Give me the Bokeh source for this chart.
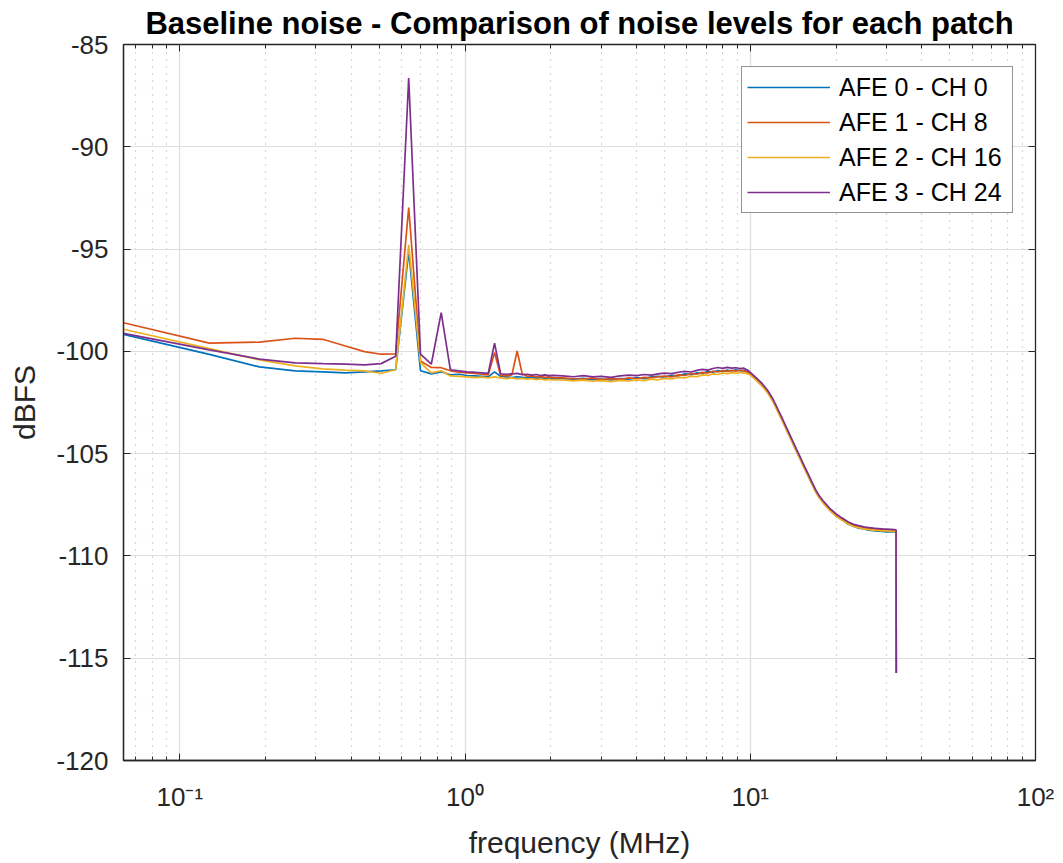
from bokeh.plotting import figure
from bokeh.models import FixedTicker, LogAxis, LinearAxis, Range1d, CustomJSTickFormatter
from bokeh.embed import file_html
from bokeh.resources import INLINE

# ---------------- data ----------------
# frequency bins (MHz): first 32 FFT bins, then sampled points up to Nyquist
freq = [0.0635, 0.1270, 0.1904, 0.2539, 0.3174, 0.3809, 0.4443, 0.5078, 0.5713, 0.6348,
        0.6982, 0.7617, 0.8252, 0.8887, 0.9521, 1.0156, 1.0791, 1.1426, 1.2061, 1.2695,
        1.3330, 1.3965, 1.4600, 1.5234, 1.5869, 1.6504, 1.7139, 1.7773, 1.8408, 1.9043,
        1.9678, 2.0313,
        2.2, 2.4, 2.6, 2.8, 3.0, 3.25, 3.5, 3.75, 4.0, 4.25, 4.5, 4.75, 5.0, 5.3, 5.6,
        5.9, 6.2, 6.5, 6.8, 7.1, 7.4, 7.7, 8.0, 8.3, 8.6, 8.9, 9.2, 9.5, 9.8, 10.0,
        10.5, 11.0, 11.5, 12.0, 12.5, 13.0, 13.5, 14.0, 14.5, 15.0, 15.5, 16.0, 16.5,
        17.0, 17.5, 18.0, 19.0, 20.0, 21.0, 22.0, 23.0, 24.0, 25.0, 26.0, 27.0, 28.0,
        29.0, 30.0, 31.0, 32.0, 32.44, 32.5]

afe0_ch0 = [-99.17, -100.15, -100.76, -100.95, -101.00, -101.05, -101.00, -100.95, -100.90, -95.10,
            -100.95, -101.10, -101.00, -101.15, -101.12, -101.18, -101.20, -101.22, -101.25, -101.00,
            -101.22, -101.25, -101.28, -101.24, -101.27, -101.30, -101.26, -101.32, -101.28, -101.33,
            -101.30, -101.34,
            -101.33, -101.36, -101.32, -101.38, -101.35, -101.40, -101.33, -101.36, -101.28, -101.33,
            -101.25, -101.22, -101.26, -101.17, -101.20, -101.10, -101.14, -101.05, -101.08, -100.98,
            -101.02, -100.94, -100.99, -100.92, -100.96, -100.90, -100.95, -100.93, -101.00, -101.08,
            -101.38, -101.66, -101.98, -102.40, -102.92, -103.40, -103.92, -104.38, -104.85, -105.28,
            -105.70, -106.12, -106.50, -106.88, -107.16, -107.38, -107.76, -108.05, -108.24, -108.44,
            -108.55, -108.64, -108.68, -108.74, -108.76, -108.79, -108.80, -108.82, -108.83, -108.82,
            -108.84, -115.72]

afe1_ch8 = [-98.60, -99.60, -99.55, -99.36, -99.41, -99.74, -100.01, -100.14, -100.13, -92.97,
            -100.47, -100.79, -100.80, -100.95, -101.02, -101.05, -101.08, -101.12, -101.15, -100.06,
            -101.18, -101.20, -101.15, -99.98, -101.10, -101.22, -101.20, -101.25, -101.22, -101.27,
            -101.25, -101.28,
            -101.30, -101.34, -101.36, -101.31, -101.38, -101.33, -101.37, -101.30, -101.34, -101.27,
            -101.30, -101.24, -101.21, -101.25, -101.15, -101.18, -101.08, -101.12, -101.03, -101.06,
            -100.97, -101.01, -100.94, -100.98, -100.93, -100.97, -100.92, -100.96, -101.02, -101.10,
            -101.35, -101.63, -101.96, -102.38, -102.90, -103.38, -103.89, -104.36, -104.82, -105.26,
            -105.67, -106.09, -106.47, -106.86, -107.12, -107.36, -107.71, -108.01, -108.19, -108.39,
            -108.49, -108.58, -108.61, -108.67, -108.67, -108.71, -108.70, -108.74, -108.72, -108.76,
            -108.75, -115.72]

afe2_ch16 = [-98.92, -99.87, -100.42, -100.71, -100.86, -100.92, -100.95, -101.07, -100.90, -94.79,
             -100.55, -101.05, -100.95, -101.20, -101.22, -101.25, -101.28, -101.26, -101.30, -101.25,
             -101.30, -101.33, -101.30, -101.35, -101.32, -101.36, -101.34, -101.38, -101.35, -101.39,
             -101.37, -101.40,
             -101.40, -101.44, -101.41, -101.46, -101.43, -101.48, -101.42, -101.45, -101.40, -101.43,
             -101.36, -101.39, -101.32, -101.35, -101.27, -101.30, -101.21, -101.24, -101.15, -101.18,
             -101.10, -101.13, -101.06, -101.09, -101.04, -101.07, -101.03, -101.06, -101.10, -101.16,
             -101.42, -101.70, -102.03, -102.45, -102.96, -103.45, -103.95, -104.42, -104.88, -105.32,
             -105.74, -106.14, -106.54, -106.91, -107.18, -107.41, -107.78, -108.06, -108.26, -108.43,
             -108.56, -108.62, -108.68, -108.71, -108.74, -108.75, -108.78, -108.77, -108.80, -108.79,
             -108.80, -115.72]

afe3_ch24 = [-99.12, -99.93, -100.38, -100.56, -100.60, -100.62, -100.66, -100.60, -100.24, -86.64,
             -100.14, -100.63, -98.11, -100.90, -100.95, -101.00, -101.02, -101.05, -101.08, -99.60,
             -101.10, -101.12, -101.10, -101.08, -101.14, -101.12, -101.16, -101.13, -101.18, -101.15,
             -101.19, -101.17,
             -101.20, -101.24, -101.19, -101.25, -101.22, -101.27, -101.20, -101.16, -101.19, -101.13,
             -101.16, -101.10, -101.06, -101.09, -101.02, -100.98, -101.01, -100.93, -100.88, -100.92,
             -100.84, -100.79, -100.83, -100.78, -100.82, -100.80, -100.84, -100.82, -100.92, -101.03,
             -101.30, -101.57, -101.90, -102.32, -102.83, -103.33, -103.83, -104.30, -104.77, -105.20,
             -105.63, -106.03, -106.43, -106.80, -107.08, -107.30, -107.67, -107.95, -108.15, -108.33,
             -108.45, -108.52, -108.58, -108.61, -108.64, -108.66, -108.68, -108.69, -108.70, -108.71,
             -108.72, -115.72]

series_names = ["AFE 0 - CH 0", "AFE 1 - CH 8", "AFE 2 - CH 16", "AFE 3 - CH 24"]
series_values = [afe0_ch0, afe1_ch8, afe2_ch16, afe3_ch24]
series_colors = ["#0072BD", "#D95319", "#EDB120", "#7E2F8E"]

x_tick_values = [0.1, 1, 10, 100]
x_tick_labels = ["10⁻¹", "10⁰", "10¹", "10²"]
x_minor_ticks = [m * 10.0 ** e for e in (-2, -1, 0, 1) for m in range(2, 10)]
y_tick_values = [-120, -115, -110, -105, -100, -95, -90, -85]
y_tick_labels = ["-120", "-115", "-110", "-105", "-100", "-95", "-90", "-85"]

# ---------------- figure ----------------
FONT = "Liberation Sans"
AX = "#262626"

p = figure(width=1058, height=861, x_axis_type="log",
           x_range=Range1d(0.0635, 100), y_range=Range1d(-120, -85),
           output_backend="svg", toolbar_location=None,
           min_border_left=123, min_border_right=23, min_border_top=44, min_border_bottom=98,
           title="Baseline noise - Comparison of noise levels for each patch")

p.title.text_font = FONT
p.title.text_font_size = "31px"
p.title.text_font_style = "bold"
p.title.text_color = "#000000"
p.title.align = "center"
p.title.standoff = 7
p.title.offset = 0

p.outline_line_color = AX
p.outline_line_width = 1.3

xt = FixedTicker(ticks=x_tick_values, minor_ticks=x_minor_ticks)
yt = FixedTicker(ticks=y_tick_values, minor_ticks=[])

xa = p.xaxis[0]
xa.ticker = xt
xa.major_label_overrides = {v: l for v, l in zip(x_tick_values, x_tick_labels)}
xa.axis_label = "frequency (MHz)"
ya = p.yaxis[0]
ya.ticker = yt
ya.major_label_overrides = {v: l for v, l in zip(y_tick_values, y_tick_labels)}
ya.axis_label = "dBFS"

for ax in (xa, ya):
    ax.axis_line_color = AX
    ax.axis_line_width = 1.3
    ax.major_tick_line_color = AX
    ax.minor_tick_line_color = AX
    ax.major_tick_in = 7
    ax.major_tick_out = 0
    ax.minor_tick_in = 4
    ax.minor_tick_out = 0
    ax.major_label_text_font = FONT
    ax.major_label_text_font_size = "26px"
    ax.major_label_text_color = AX
    ax.axis_label_text_font = FONT
    ax.axis_label_text_font_size = "30px"
    ax.axis_label_text_font_style = "normal"
    ax.axis_label_text_color = AX
ya.minor_tick_in = 0
xa.major_label_standoff = 21
xa.axis_label_standoff = 11
ya.major_label_standoff = 15
ya.axis_label_standoff = 12

# box ticks on top and right
empty = CustomJSTickFormatter(code="return ''")
top = LogAxis(ticker=xt, formatter=empty, axis_line_color=None,
              major_tick_line_color=AX, minor_tick_line_color=AX,
              major_tick_in=7, major_tick_out=0, minor_tick_in=4, minor_tick_out=0,
              major_label_standoff=0, major_label_text_font_size="0px")
right = LinearAxis(ticker=yt, formatter=empty, axis_line_color=None,
                   major_tick_line_color=AX, major_tick_in=7, major_tick_out=0,
                   minor_tick_in=0, minor_tick_out=0,
                   major_label_standoff=0, major_label_text_font_size="0px")
p.add_layout(top, "above")
p.add_layout(right, "right")

p.xgrid.ticker = xt
p.ygrid.ticker = yt
p.xgrid.grid_line_color = "#dedede"
p.ygrid.grid_line_color = "#dedede"
p.xgrid.grid_line_width = 1.2
p.ygrid.grid_line_width = 1.2
p.xgrid.minor_grid_line_color = "#b0b0b0"
p.xgrid.minor_grid_line_dash = "1 6"
p.xgrid.minor_grid_line_width = 1.2

for name, vals, col in zip(series_names, series_values, series_colors):
    p.line(freq, vals, line_color=col, line_width=1.7, legend_label=name)

lg = p.legend[0]
lg.location = "top_right"
lg.margin = 22
lg.border_line_color = "#262626"
lg.border_line_width = 1.3
lg.padding = 5
lg.spacing = 5
lg.glyph_width = 83
lg.glyph_height = 30
lg.label_height = 30
lg.label_width = 168
lg.label_standoff = 9
lg.label_text_font = FONT
lg.label_text_font_size = "25px"
lg.label_text_color = "#000000"
lg.background_fill_color = "white"
lg.background_fill_alpha = 1.0

open("out.html", "w").write(file_html(p, INLINE))
